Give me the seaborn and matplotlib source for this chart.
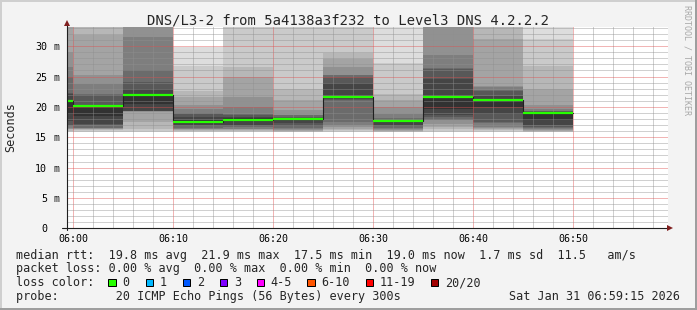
import matplotlib
matplotlib.use("Agg")
import matplotlib.pyplot as plt
from matplotlib.patches import Rectangle
from matplotlib.lines import Line2D
from matplotlib.transforms import blended_transform_factory
import seaborn as sns

# ------------------------------------------------------------------ data
title = "DNS/L3-2 from 5a4138a3f232 to Level3 DNS 4.2.2.2"
y_label = "Seconds"

# each 5-minute sample, given by its end time in minutes after 06:00
interval_end_min = [0, 5, 10, 15, 20, 25, 30, 35, 40, 45, 50]
step_min = 5
median_ms = [21.0, 20.1, 21.9, 17.5, 17.8, 18.0, 21.6, 17.6, 21.7, 21.1, 19.0]
loss_count = [0, 0, 0, 0, 0, 0, 0, 0, 0, 0, 0]

# 20 sorted ping round-trip times (ms) of every sample
ping_0600 = [15.8, 16.0, 16.1, 16.3, 16.4, 16.6, 16.8, 17.0, 17.6, 18.9,
             21.1, 22.2, 22.3, 25.0, 26.6, 29.1, 34.0, 35.0, 36.0, 37.0]
ping_0605 = [15.8, 16.0, 16.2, 16.3, 16.4, 16.5, 16.6, 17.0, 17.2, 18.5,
             20.2, 20.3, 22.0, 22.1, 23.8, 25.2, 31.9, 34.0, 35.0, 36.0]
ping_0610 = [15.9, 16.0, 16.4, 17.5, 19.2, 19.25, 19.3, 19.35, 19.4, 20.5,
             21.9, 23.0, 24.1, 26.0, 31.5, 34.0, 35.0, 36.0, 37.0, 38.0]
ping_0615 = [15.9, 16.0, 16.1, 16.2, 16.3, 16.4, 16.5, 16.8, 17.0, 17.4,
             17.8, 18.4, 18.8, 19.0, 19.6, 20.3, 21.6, 22.7, 26.8, 29.9]
ping_0620 = [15.9, 16.0, 16.1, 16.2, 16.3, 16.4, 16.7, 16.9, 17.0, 17.7,
             18.1, 18.3, 18.6, 18.9, 20.0, 21.7, 25.0, 26.5, 33.5, 34.0]
ping_0625 = [15.8, 15.9, 16.0, 16.1, 16.2, 16.3, 16.5, 16.9, 17.3, 17.9,
             18.1, 18.2, 18.4, 18.6, 18.7, 19.5, 21.1, 23.0, 33.5, 34.0]
ping_0630 = [15.9, 16.0, 16.2, 16.4, 16.7, 17.0, 17.5, 21.2, 21.3, 21.5,
             21.7, 24.0, 25.0, 25.2, 25.3, 26.6, 27.9, 28.8, 34.0, 35.0]
ping_0635 = [15.8, 15.9, 16.0, 16.1, 16.2, 16.4, 16.5, 16.8, 17.0, 17.5,
             17.7, 17.8, 17.9, 18.1, 18.9, 20.0, 21.1, 22.2, 27.3, 34.0]
ping_0640 = [15.8, 16.0, 16.3, 16.7, 17.2, 17.8, 17.9, 18.3, 18.7, 19.6,
             21.8, 24.6, 26.3, 26.4, 28.5, 34.0, 35.0, 36.0, 37.0, 38.0]
ping_0645 = [15.9, 16.0, 16.2, 16.3, 16.5, 16.7, 17.3, 17.5, 18.9, 20.0,
             21.3, 21.8, 22.7, 22.75, 23.3, 23.4, 31.2, 34.0, 35.0, 36.0]
ping_0650 = [15.8, 15.9, 16.0, 16.1, 16.2, 16.3, 16.5, 16.7, 17.0, 17.8,
             19.1, 19.2, 19.3, 19.4, 19.6, 20.3, 23.0, 26.8, 31.2, 34.0]
pings_by_interval = [ping_0600, ping_0605, ping_0610, ping_0615, ping_0620, ping_0625,
                     ping_0630, ping_0635, ping_0640, ping_0645, ping_0650]

y_major = [0, 5, 10, 15, 20, 25, 30]
y_tick_text = ["0", "5", "10", "15", "20", "25", "30"]
y_unit = "m"
x_major = [0, 10, 20, 30, 40, 50]
x_tick_text = ["06:00", "06:10", "06:20", "06:30", "06:40", "06:50"]

loss_labels = ["0", "1", "2", "3", "4-5", "6-10", "11-19", "20/20"]
loss_colors = ["#26ff00", "#00b8ff", "#0059ff", "#7e00ff", "#ff00ff", "#ff5500", "#ff0000", "#a10000"]

stat_rtt = "median rtt:  19.8 ms avg  21.9 ms max  17.5 ms min  19.0 ms now  1.7 ms sd  11.5   am/s"
stat_loss = "packet loss: 0.00 % avg  0.00 % max  0.00 % min  0.00 % now"
loss_title = "loss color:"
probe_text = "probe:        20 ICMP Echo Pings (56 Bytes) every 300s"
stamp_text = "Sat Jan 31 06:59:15 2026"
watermark = "RRDTOOL / TOBI OETIKER"

# ------------------------------------------------------------------ style
W, H = 697, 310
sns.set_style("white")
plt.rcParams["font.family"] = ["DejaVu Sans Mono"]
plt.rcParams["lines.scale_dashes"] = False
MONO = "DejaVu Sans Mono"
BG = "#f3f3f3"
GRID = (0.56, 0.56, 0.56, 0.32)
MGRID = (0.87, 0.31, 0.31, 0.36)
TGRID = (0.56, 0.56, 0.56, 0.75)
TMGRID = (0.87, 0.31, 0.31, 0.6)
ARROW = "#801f1f"
AXIS = "#1f1f1f"


def fx(px):
    return px / W


def fy(py):
    return 1 - py / H


fig = plt.figure(figsize=(W / 100, H / 100), dpi=100, facecolor=BG)
left_px, right_px, top_px, bottom_px = 66.5, 668.0, 27.0, 228.3
ax = fig.add_axes([fx(left_px), fy(bottom_px), fx(right_px - left_px), (bottom_px - top_px) / H])
ax.set_facecolor("white")

# smoke: nested bands, outer pings lighter
smoke_grays = [int(190 / 10 * (10 - i)) + 50 for i in range(1, 11)]
for end, pings in zip(interval_end_min, pings_by_interval):
    p = sorted(pings)
    for i in range(10):
        lo, hi = p[i], p[19 - i]
        g = smoke_grays[i] / 255
        ax.bar(end - step_min, hi - lo, bottom=lo, width=step_min, align="edge",
               color=(g, g, g), linewidth=0, antialiased=False, zorder=1)

# median step line and loss-coloured median segments
starts = [e - step_min for e in interval_end_min]
step_x = starts + [interval_end_min[-1]]
step_y = median_ms + [median_ms[-1]]
sns.lineplot(x=step_x, y=step_y, drawstyle="steps-post", color="#202020",
             linewidth=0.8, ax=ax, zorder=3, sort=False)
ax.hlines(median_ms, starts, interval_end_min,
          colors=[loss_colors[c] for c in loss_count], linewidth=1.6, zorder=4)

# scales
x0 = -(73.3 - left_px) / 10.0
ax.set_xlim(x0, x0 + (right_px - left_px) / 10.0)
ax.set_ylim(0, (bottom_px - top_px) / 6.07)

ax.set_xticks(x_major)
ax.set_xticklabels(x_tick_text)
ax.set_xticks([m for m in range(2, 60, 2) if m % 10], minor=True)
ax.set_yticks(y_major)
ax.set_yticklabels(y_tick_text)
ax.set_yticks([v for v in range(1, 34) if v % 5], minor=True)

ax.grid(which="minor", color=GRID, linestyle=(0, (0.72, 0.72)), linewidth=0.6)
ax.grid(which="major", color=MGRID, linestyle=(0, (0.72, 0.72)), linewidth=0.6)
ax.set_axisbelow(False)
for gl in ax.get_xgridlines() + ax.get_ygridlines():
    gl.set_zorder(2.5)

ax.tick_params(axis="x", which="major", length=1.6, width=0.72, color=TMGRID, pad=2.6,
               labelsize=7.2, labelcolor="black")
ax.tick_params(axis="x", which="minor", length=1.6, width=0.72, color=TGRID)
ax.tick_params(axis="y", which="major", length=1.6, width=0.72, color=TMGRID, pad=12.4,
               labelsize=7.2, labelcolor="black")
ax.tick_params(axis="y", which="minor", length=1.6, width=0.72, color=TGRID)
for lab in ax.get_xticklabels() + ax.get_yticklabels():
    lab.set_fontfamily(MONO)

unit_tr = blended_transform_factory(fig.transFigure, ax.transData)
for v in y_major[1:]:
    ax.text(fx(54.0), v, y_unit, transform=unit_tr, ha="left", va="center_baseline",
            fontsize=7.2, family=MONO, clip_on=False)

for s in ax.spines.values():
    s.set_visible(False)

# axes with arrows
ax.add_line(Line2D([0, 0], [-0.01, 1.015], transform=ax.transAxes, color=AXIS,
                   linewidth=0.8, clip_on=False, zorder=5))
ax.add_line(Line2D([-0.007, 1.0], [0, 0], transform=ax.transAxes, color=AXIS,
                   linewidth=0.8, clip_on=False, zorder=5))
ax.plot([0], [1.018], marker="^", markersize=4.2, color=ARROW, transform=ax.transAxes,
        clip_on=False, zorder=6, markeredgewidth=0)
ax.plot([1.004], [0], marker=">", markersize=4.2, color=ARROW, transform=ax.transAxes,
        clip_on=False, zorder=6, markeredgewidth=0)

ax.set_xlabel("")
ax.set_ylabel("")

# ------------------------------------------------------------------ texts
fig.text(fx(347.8), fy(24.0), title, ha="center", va="baseline", fontsize=10, family=MONO)
fig.text(fx(11.0), fy(127.5), y_label, rotation=90, ha="center", va="center",
         fontsize=8.5, family=MONO)
fig.text(fx(687.5), fy(5.0), watermark, rotation=270, ha="center", va="top",
         fontsize=6, family=MONO, color="#a8a8a8")

fig.text(fx(16.0), fy(258.5), stat_rtt, ha="left", va="baseline", fontsize=8.5, family=MONO)
fig.text(fx(16.0), fy(272.0), stat_loss, ha="left", va="baseline", fontsize=8.5, family=MONO)
fig.text(fx(16.0), fy(286.0), loss_title, ha="left", va="baseline", fontsize=8.5, family=MONO)
box_left_px = [108.3, 145.7, 182.7, 220.0, 256.7, 307.3, 366.0, 430.7]
for bx, lab, col in zip(box_left_px, loss_labels, loss_colors):
    fig.add_artist(Rectangle((fx(bx), fy(286.0)), fx(7.3), 7.5 / H, transform=fig.transFigure,
                             facecolor=col, edgecolor="black", linewidth=0.72))
    fig.text(fx(bx + 14.0), fy(286.0), lab, ha="left", va="baseline", fontsize=8.5, family=MONO)
fig.text(fx(16.0), fy(300.0), probe_text, ha="left", va="baseline", fontsize=8.5, family=MONO)
fig.text(fx(680.0), fy(300.0), stamp_text, ha="right", va="baseline", fontsize=8.5, family=MONO)

# 3-D frame of the canvas
fig.add_artist(Rectangle((0, fy(2)), 1, 2 / H, transform=fig.transFigure, color="#cfcfcf", lw=0))
fig.add_artist(Rectangle((0, 0), fx(2), 1, transform=fig.transFigure, color="#cfcfcf", lw=0))
fig.add_artist(Rectangle((0, 0), 1, 2 / H, transform=fig.transFigure, color="#9e9e9e", lw=0))
fig.add_artist(Rectangle((fx(W - 2), 0), fx(2), 1, transform=fig.transFigure, color="#9e9e9e", lw=0))

fig.savefig("out.png", dpi=100, facecolor=BG)
